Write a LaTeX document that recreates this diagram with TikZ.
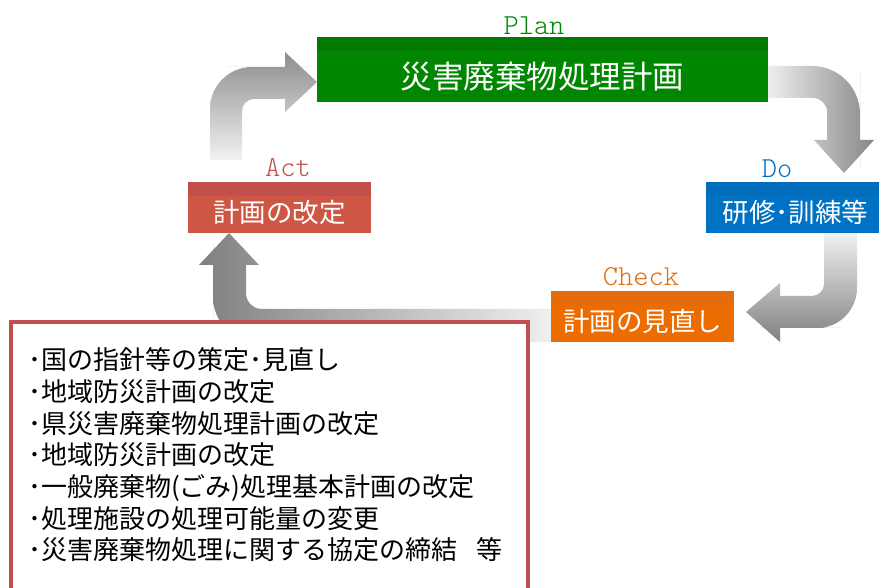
\documentclass[tikz,border=0pt]{standalone}
\usepackage{fontspec}
\newfontfamily\jpfont{Noto Sans CJK JP}
\usepackage{xcolor}
\usepackage{tikz}
\usetikzlibrary{positioning}
\definecolor{plangruen}{RGB}{0,134,0}
\definecolor{planband}{RGB}{0,122,0}
\definecolor{doblau}{RGB}{0,114,196}
\definecolor{doband}{RGB}{0,108,186}
\definecolor{checkorange}{RGB}{237,108,0}
\definecolor{checkband}{RGB}{228,108,10}
\definecolor{actrot}{RGB}{206,87,68}
\definecolor{actband}{RGB}{192,80,77}
\tikzset{
    stufe/.style   = {inner xsep=0pt, inner ysep=0pt, text=white, minimum height=51pt,
                      text height=40.5pt, text depth=10.5pt,
                      font=\jpfont\fontsize{26.5pt}{26.5pt}\selectfont},
    band/.style    = {path picture={\fill[#1] (path picture bounding box.north west)
                      rectangle ([yshift=-14pt]path picture bounding box.north east);}},
    phase/.style   = {font=\ttfamily\fontseries{l}\fontsize{29pt}{29pt}\selectfont,
                      inner sep=0pt, anchor=base},
    notiz/.style   = {font=\jpfont\fontsize{26pt}{26pt}\selectfont, inner sep=0pt, anchor=base west},
    rahmen/.style  = {draw=actband, line width=3.5pt, fill=white}
}

\begin{document}
\begin{tikzpicture}[x=1pt, y=-1pt]
        \useasboundingbox (0,0) rectangle (879,588);
        \clip (0,0) rectangle (879,588);

        % Bogenpfeile
        \shade[top color=black!45, bottom color=black!5]
            (210,160) -- (210,120) [rounded corners=42pt] -- (210,67) -- (270,67)
            [sharp corners] -- (285,67) -- (285,52) -- (317,82) -- (285,112) -- (285,99)
            -- (270,99) [rounded corners=12pt] -- (242,99) -- (242,130)
            [sharp corners] -- (242,160) -- cycle;
        \shade[left color=black!5, right color=black!47]
            (764,66) -- (800,66) [rounded corners=48pt] -- (860,66) -- (860,120)
            [sharp corners] -- (860,140) -- (874,140) -- (844,173) -- (814,140) -- (827,140)
            -- (827,120) [rounded corners=14pt] -- (827,98) -- (800,98)
            [sharp corners] -- (764,98) -- cycle;
        \shade[top color=black!4, bottom color=black!50]
            (824,230) -- (857,230) -- (857,260) [rounded corners=40pt] -- (857,328) -- (800,328)
            [sharp corners] -- (780,328) -- (780,342) -- (746,312) -- (780,283) -- (780,296)
            -- (800,296) [rounded corners=12pt] -- (824,296) -- (824,270)
            [sharp corners] -- cycle;
        \shade[left color=black!50, right color=black!5]
            (560,309) -- (560,342) -- (300,342) [rounded corners=45pt] -- (213,342) -- (213,290)
            [sharp corners] -- (213,265) -- (199,265) -- (229,233) -- (259,265) -- (246,265)
            -- (246,285) [rounded corners=16pt] -- (246,309) -- (280,309)
            [sharp corners] -- cycle;

        % Massnahmen
        \draw[rahmen] (11,322) rectangle (528,600);
        \foreach \zeile [count=\i] in {･国の指針等の策定･見直し, ･地域防災計画の改定,
                ･県災害廃棄物処理計画の改定, ･地域防災計画の改定,
                ･一般廃棄物(ごみ)処理基本計画の改定, ･処理施設の処理可能量の変更,
                ･災害廃棄物処理に関する協定の締結\hspace{0.75em}等}
            \node[notiz] (memo\i) at (28,{369.9+31.67*(\i-1)}) {\zeile};

        % PDCA-Stufen
        \node[stufe, band=planband, fill=plangruen, minimum width=451pt, minimum height=65pt,
              text height=51.5pt, text depth=13.5pt, font=\jpfont\fontsize{31.5pt}{31.5pt}\selectfont]
              (plan) at (542.5,69.5) {災害廃棄物処理計画};
        \node[stufe, band=doband, fill=doblau, minimum width=179pt] (do) at (795.5,207.5) {研修･訓練等};
        \node[stufe, band=checkband, fill=checkorange, minimum width=183pt] (check) at (642.5,317) {計画の見直し};
        \node[stufe, band=actband, fill=actrot, minimum width=183pt] (act) at (279.5,207.5) {計画の改定};

        % Beschriftung
        \node[phase, text=plangruen]   (planlabel)  at (534,35)  {Plan};
        \node[phase, text=doblau]      (dolabel)    at (777,178) {Do};
        \node[phase, text=checkband]   (checklabel) at (641,286) {Check};
        \node[phase, text=actband]     (actlabel)   at (288,177) {Act};
    \end{tikzpicture}
\end{document}
